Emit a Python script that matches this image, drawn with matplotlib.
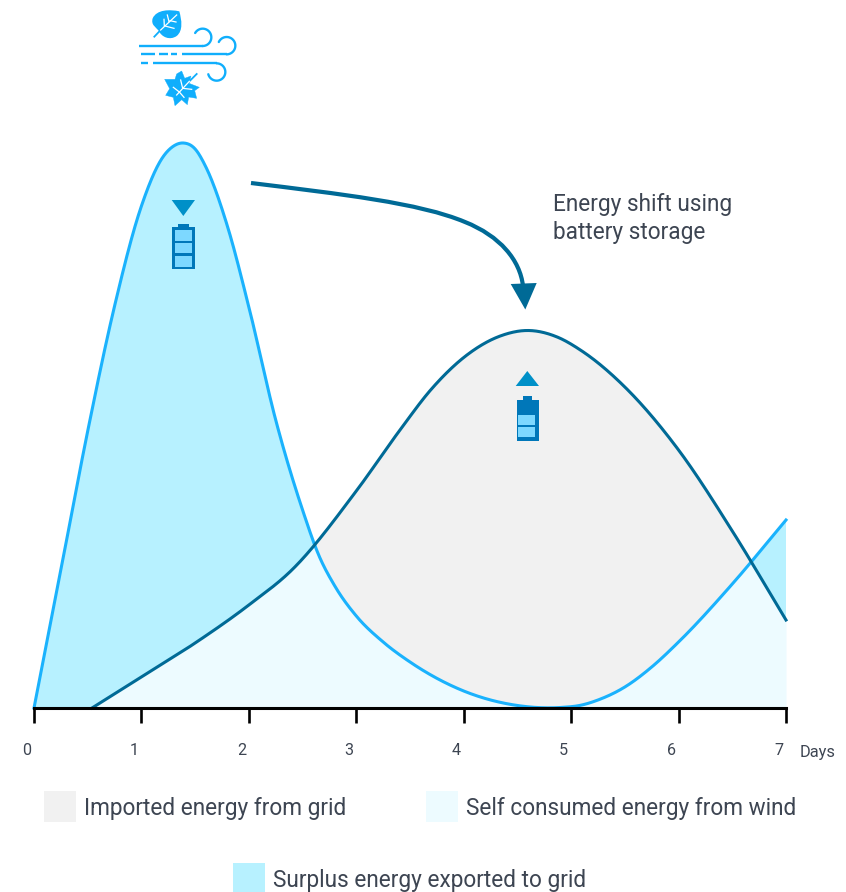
import numpy as np
import matplotlib
matplotlib.use("Agg")
import matplotlib.pyplot as plt
from matplotlib.patches import Polygon, Rectangle, PathPatch
from matplotlib.path import Path
from matplotlib.transforms import ScaledTranslation

plt.rcParams['font.family'] = ['Roboto', 'DejaVu Sans']

# Energy over one week
wind_days = [0, 0.25, 0.5, 0.75, 1.0, 1.2, 1.3, 1.39, 1.5, 1.6, 1.8, 2.0, 2.25, 2.5, 2.65, 2.8, 3.0,
             3.25, 3.5, 4.0, 4.5, 4.9, 5.1, 5.25, 5.5, 5.75, 6.0, 6.5, 7.0]
wind_output = [0, 138, 277, 402, 502, 551, 562, 565, 559, 541, 482, 401, 288, 198, 153, 122, 92,
               66, 46, 17, 2.5, 0.5, 3, 8, 21, 41, 66, 124, 188]
demand_days = [0.54, 1.0, 1.5, 2.0, 2.4, 3.0, 3.4, 3.7, 4.03, 4.34, 4.6, 4.87, 5.1, 5.5, 6.0, 6.5, 7.0]
demand = [0, 31, 65, 103, 138, 217, 277, 319, 353, 372, 377.5, 371, 357, 321, 258, 177, 88]
tick_days = [0, 1, 2, 3, 4, 5, 6, 7]
legend_labels = ["Imported energy from grid", "Self consumed energy from wind",
                 "Surplus energy exported to grid"]

WIND_BLUE = "#1ab2fd"
DEEP_BLUE = "#006a96"
SURPLUS = "#b7f1ff"
SELF_USE = "#edfbff"
IMPORTED = "#f1f1f1"
TEXT = "#3d4552"
ICON = "#10aefc"
TRIANGLE = "#0090c8"
BATTERY = "#0077b9"
CELL = "#7dd8ff"

W, H = 846, 892
fig = plt.figure(figsize=(W / 100, H / 100), dpi=100)

ax = fig.add_axes([34 / W, (H - 708) / H, 752 / W, 565 / H])
ax.set_xlim(0, 7)
ax.set_ylim(0, 565)


def smooth(xs, ys, grid):
    # cubic Hermite curve through the knots, flat outside the first knot
    xs = np.array(xs, dtype=float)
    ys = np.array(ys, dtype=float)
    slopes = np.gradient(ys, xs)
    idx = np.clip(np.searchsorted(xs, grid, side="right") - 1, 0, len(xs) - 2)
    h = xs[idx + 1] - xs[idx]
    t = (grid - xs[idx]) / h
    out = ((2 * t**3 - 3 * t**2 + 1) * ys[idx] + (t**3 - 2 * t**2 + t) * h * slopes[idx]
           + (-2 * t**3 + 3 * t**2) * ys[idx + 1] + (t**3 - t**2) * h * slopes[idx + 1])
    out[grid < xs[0]] = 0
    return np.maximum(out, 0)


x = np.linspace(0, 7, 1401)
wind = smooth(wind_days, wind_output, x)
load = smooth(demand_days, demand, x)

# Areas: self consumption underneath, surplus and import on either side of it
ax.fill_between(x, 0, np.minimum(wind, load), color=SELF_USE, lw=0)
ax.fill_between(x, load, wind, where=wind >= load, interpolate=True, color=SURPLUS, lw=0)
ax.fill_between(x, wind, load, where=load >= wind, interpolate=True, color=IMPORTED, lw=0)

ax.plot(x, wind, color=WIND_BLUE, lw=2.2, clip_on=False, zorder=3)
started = x >= demand_days[0]
ax.plot(x[started], load[started], color=DEEP_BLUE, lw=2.2, clip_on=False, zorder=3)

for side in ["top", "left", "right"]:
    ax.spines[side].set_visible(False)
ax.spines["bottom"].set_linewidth(2.2)
ax.spines["bottom"].set_zorder(5)
ax.set_yticks([])
ax.set_xticks(tick_days)
ax.tick_params(axis="x", length=10.5, width=1.9, pad=15, labelsize=11.6, labelcolor=TEXT)
shift = ScaledTranslation(-7.5 / 100, 0, fig.dpi_scale_trans)
for label in ax.get_xticklabels():
    label.set_transform(label.get_transform() + shift)

# Overlay in pixel units for the icons, the arrow and the legend
top = fig.add_axes([0, 0, 1, 1])
top.set_xlim(0, W)
top.set_ylim(H, 0)
top.axis("off")
top.patch.set_alpha(0)


def curl(cx, cy, r, start, end):
    t = np.radians(np.linspace(start, end, 40))
    return cx + r * np.cos(t), cy + r * np.sin(t)


def z(px, py):
    # icon outlines are noted in a 3x grid offset from (120, 0)
    return 120 + px / 3, py / 3


def draw_wind_lines():
    for a, b, yy in [(57, 250, 137), (63, 105, 163), (118, 143, 163), (153, 170, 163),
                     (185, 320, 163), (63, 85, 190), (98, 290, 190)]:
        top.plot([z(a, 0)[0], z(b, 0)[0]], [yy / 3, yy / 3], color=ICON, lw=1.7, solid_capstyle="butt")
    for cx, cy, start, end in [(248, 112, 90, -150), (320, 137, 90, -155), (290, 216, -90, 165)]:
        px, py = curl(*z(cx, cy), 26 / 3, start, end)
        top.plot(px, py, color=ICON, lw=1.7, solid_capstyle="round")


def draw_leaves():
    leaf = Path([z(178, 34), z(150, 28), z(110, 28), z(98, 55), z(92, 75), z(108, 82), z(116, 92),
                 z(125, 112), z(150, 122), z(170, 108), z(190, 92), z(185, 60), z(178, 34)],
                [Path.MOVETO] + [Path.CURVE4] * 12)
    top.add_patch(PathPatch(leaf, fc=ICON, lw=0))
    top.plot(*zip(z(103, 110), z(122, 90)), color=ICON, lw=1.3)
    for a, b in [((122, 90), (170, 45)), ((133, 78), (132, 58)), ((147, 65), (142, 45)),
                 ((150, 62), (168, 66)), ((135, 78), (162, 85))]:
        top.plot(*zip(z(*a), z(*b)), color="white", lw=0.9)

    maple = [(185, 213), (194, 235), (213, 228), (207, 250), (238, 262), (224, 272), (230, 295),
             (206, 291), (202, 314), (185, 299), (165, 317), (160, 292), (137, 286), (149, 266),
             (134, 238), (165, 238), (170, 222)]
    top.add_patch(Polygon([z(*p) for p in maple], closed=True, fc=ICON, ec=ICON, lw=0.3))
    top.plot(*zip(z(230, 222), z(208, 244)), color=ICON, lw=1.3)
    for a, b in [((208, 244), (170, 285)), ((188, 265), (182, 240)), ((188, 265), (215, 268)),
                 ((178, 276), (160, 262)), ((178, 276), (192, 292))]:
        top.plot(*zip(z(*a), z(*b)), color="white", lw=0.9)


def draw_battery(body, cap, cells, triangle):
    top.add_patch(Polygon(triangle, closed=True, fc=TRIANGLE, lw=0))
    top.add_patch(Rectangle((cap[0], cap[1]), cap[2] - cap[0], cap[3] - cap[1], fc=BATTERY, lw=0))
    top.add_patch(Rectangle((body[0], body[1]), body[2] - body[0], body[3] - body[1], fc=BATTERY, lw=0))
    for c in cells:
        top.add_patch(Rectangle((c[0], c[1]), c[2] - c[0], c[3] - c[1], fc=CELL, lw=0))


draw_wind_lines()
draw_leaves()
draw_battery((172.3, 227.3, 194.7, 269.3), (178.3, 224, 189, 228),
             [(175.3, 230, 192, 240.7), (175.3, 243.3, 192, 252.7), (175.3, 255.7, 192, 266.7)],
             [(171.7, 200), (195, 200), (183.3, 216)])
draw_battery((516.7, 400, 538.7, 441), (522.7, 396, 532.3, 401),
             [(518.3, 415, 535, 425), (518.3, 427, 535, 437)],
             [(515.7, 386), (539, 386), (527.3, 371)])

# Curved arrow from the surplus peak to the demand peak
arrow = Path([(251, 183), (340, 194), (420, 203), (465, 222), (500, 236), (520, 260), (523, 286)],
             [Path.MOVETO, Path.CURVE4, Path.CURVE4, Path.CURVE4, Path.CURVE4, Path.CURVE4, Path.CURVE4])
top.add_patch(PathPatch(arrow, fc="none", ec=DEEP_BLUE, lw=3.0, capstyle="butt"))
top.add_patch(Polygon([(510.7, 284), (536.7, 283), (525.3, 309.5)], closed=True, fc=DEEP_BLUE, lw=0))

top.text(553, 204, "Energy shift using", color=TEXT, fontsize=16.3, va="center", ha="left")
top.text(553, 233, "battery storage", color=TEXT, fontsize=16.3, va="center", ha="left")
top.text(800, 752, "Days", color=TEXT, fontsize=11.8, va="center", ha="left")

# Legend
for (sx, sy, sh, colour, label) in [(44, 791, 31, IMPORTED, legend_labels[0]),
                                    (426, 791, 31, SELF_USE, legend_labels[1]),
                                    (233, 863, 29, SURPLUS, legend_labels[2])]:
    top.add_patch(Rectangle((sx, sy), 32, sh, fc=colour, lw=0))
    top.text(sx + 40, sy + 17, label, color=TEXT, fontsize=16.3, va="center", ha="left")

fig.savefig("out.png", dpi=100)
